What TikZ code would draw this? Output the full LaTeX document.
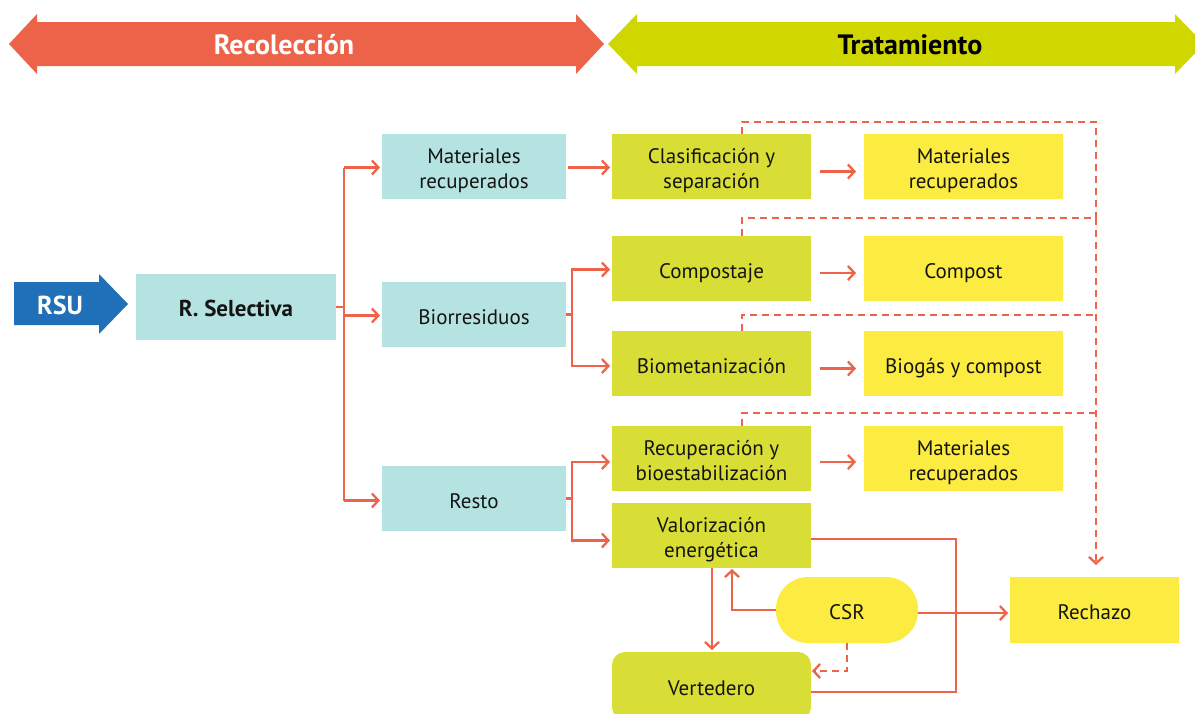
\documentclass[tikz,border=0pt]{standalone}
\usepackage{fontspec}
\setmainfont{PT Sans}
\usetikzlibrary{arrows.meta,calc}
\definecolor{hdrred}{RGB}{237,99,73}
\definecolor{hdrgreen}{RGB}{207,214,0}
\definecolor{procgreen}{RGB}{217,222,54}
\definecolor{outyellow}{RGB}{252,236,66}
\definecolor{tealbg}{RGB}{181,227,225}
\definecolor{rsublue}{RGB}{31,112,184}
\definecolor{linered}{RGB}{238,100,75}
\definecolor{txt}{RGB}{20,20,20}
\newcommand{\mytopstrut}{\rule{0pt}{25pt}}
\newcommand{\mybotstrut}{\rule[-6pt]{0pt}{0pt}}
\newcommand{\twolines}[2]{\mytopstrut #1\\#2\mybotstrut}
\begin{document}
\begin{tikzpicture}[x=1pt,y=-1pt,
  basebox/.style={rectangle, inner sep=0pt, outer sep=0pt, align=center, text=txt,
    font=\fontsize{21}{25.8}\selectfont,
    execute at begin node=\mytopstrut, execute at end node=\mybotstrut},
  tealbox/.style={basebox, fill=tealbg, minimum width=184pt, minimum height=65pt},
  procbox/.style={basebox, fill=procgreen, minimum width=199pt, minimum height=65pt},
  outbox/.style={basebox, fill=outyellow, minimum width=199pt, minimum height=65pt},
  conn/.style={draw=linered, line width=2.3pt},
  arr/.style={conn, -{Straight Barb[length=6.5pt,width=14pt,line width=2.3pt]}, shorten >=2pt},
  dsh/.style={draw=linered, line width=2.3pt, dash pattern=on 7pt off 5pt}
]
\useasboundingbox (0,0) rectangle (1195,713);

% header arrows
\fill[hdrred] (9,44) -- (37,14) -- (37,22) -- (576,22) -- (576,14) -- (604,44) -- (576,74) -- (576,66) -- (37,66) -- (37,74) -- cycle;
\node[text=white, font=\fontsize{28}{32}\bfseries\selectfont] (recol) at (284,45) {Recolección};
\fill[hdrgreen] (608,44) -- (637,14) -- (637,22) -- (1175,22) -- (1175,14) -- (1204,44) -- (1175,74) -- (1175,66) -- (637,66) -- (637,74) -- cycle;
\node[text=black, font=\fontsize{28}{32}\bfseries\selectfont] (trat) at (910,45) {Tratamiento};

% RSU arrow
\fill[rsublue] (14,282) -- (99,282) -- (99,274) -- (128,304) -- (99,334) -- (99,325) -- (14,325) -- cycle;
\node[text=white, font=\fontsize{26}{30}\bfseries\selectfont] (rsu) at (60,305) {RSU};

% collection nodes
\node[tealbox, minimum width=200pt, minimum height=66pt, font=\fontsize{23}{27}\bfseries\selectfont] (rsel) at (236,307) {R. Selectiva};
\node[tealbox] (mr) at (474,166.5) {\twolines{Materiales}{recuperados}};
\node[tealbox] (bio) at (474,314.5) {Biorresiduos};
\node[tealbox] (resto) at (474,498.5) {Resto};

% treatment nodes
\node[procbox] (clas) at (711.5,166.5) {\twolines{Clasificación y}{separación}};
\node[procbox] (comp) at (711.5,268.5) {Compostaje};
\node[procbox] (biomet) at (711.5,363.5) {Biometanización};
\node[procbox] (recup) at (711.5,458.5) {\twolines{Recuperación y}{bioestabilización}};
\node[procbox] (val) at (711.5,535.5) {\twolines{Valorización}{energética}};
\node[procbox, rounded corners=13pt, minimum height=68pt] (vert) at (711.5,686) {Vertedero};

\node[outbox] (o1) at (963.5,166.5) {\twolines{Materiales}{recuperados}};
\node[outbox] (o2) at (963.5,268.5) {Compost};
\node[outbox] (o3) at (963.5,363.5) {Biogás y compost};
\node[outbox] (o4) at (963.5,458.5) {\twolines{Materiales}{recuperados}};

\node[outbox, minimum width=169pt, minimum height=66pt] (rech) at (1094.5,610) {Rechazo};
\node[outbox, minimum width=142pt, minimum height=66pt, rounded corners=32pt] (csr) at (847,610) {CSR};

% branch from R. Selectiva
\coordinate (bx) at (344,0);
\draw[conn] (rsel.east) -- (bx|-rsel.east);
\draw[conn] ($(bx|-mr.west)+(0,1)$) -- ($(bx|-resto.west)+(0,2)$);
\draw[arr] ($(bx|-mr.west)+(0,1)$) -- ($(mr.west)+(0,1)$);
\draw[arr] ($(bx|-bio.west)+(0,1)$) -- ($(bio.west)+(0,1)$);
\draw[arr] ($(bx|-resto.west)+(0,2)$) -- ($(resto.west)+(0,2)$);

% materiales -> clasificacion
\draw[arr] ($(mr.east)+(2,1)$) -- ($(clas.west)+(0,1)$);

% biorresiduos branch
\coordinate (cx) at (572,0);
\draw[conn] (bio.east) -- (cx|-bio.east);
\draw[arr] ($(cx|-comp.west)+(0,1)$) |- ($(biomet.west)+(0,2.5)$);
\draw[arr] ($(cx|-biomet.west)+(0,2.5)$) |- ($(comp.west)+(0,1)$);

% resto branch
\draw[conn] (resto.east) -- (cx|-resto.east);
\draw[arr] ($(cx|-recup.west)+(0,3.5)$) |- ($(val.west)+(0,5)$);
\draw[arr] ($(cx|-val.west)+(0,5)$) |- ($(recup.west)+(0,3.5)$);

% process -> output
\draw[arr] ($(clas.east)+(9,5)$) -- ($(o1.west)+(-6,5)$);
\draw[arr] ($(comp.east)+(9,4.5)$) -- ($(o2.west)+(-6,4.5)$);
\draw[arr] ($(biomet.east)+(9,5)$) -- ($(o3.west)+(-6,5)$);
\draw[arr] ($(recup.east)+(9,3.5)$) -- ($(o4.west)+(-6,3.5)$);

% dashed reject lines
\coordinate (dsx) at (742,0);
\coordinate (dx) at (1096,0);
\draw[dsh] (dsx|-clas.north) -- (dsx|-0,122) -- (dx|-0,122) -- (dx|-0,218);
\draw[dsh] (dsx|-comp.north) -- (dsx|-0,218) -- (dx|-0,218);
\draw[dsh] (dsx|-biomet.north) -- (dsx|-0,315) -- (dx|-0,315);
\draw[dsh] (dsx|-recup.north) -- (dsx|-0,413) -- (dx|-0,413);
\draw[dsh, -{Straight Barb[length=6.5pt,width=14pt,line width=2.3pt]}, shorten >=12pt] (dx|-0,218) -- (dx|-rech.north);

% CSR connections
\draw[arr, shorten >=1pt] (csr.west) -| ($(val.south)+(20.5,0)$);
\draw[arr] ($(val.south)+(0.5,0)$) -- ($(vert.north)+(0.5,0)$);
\draw[dsh, -{Straight Barb[length=6.5pt,width=14pt,line width=2.3pt]}, shorten >=1pt] (csr.south) |- ($(vert.east)+(0,-15)$);
\draw[arr] ($(csr.east)+(0,3)$) -- ($(rech.west)+(0,3)$);
\draw[conn] ($(val.east)+(0,3.5)$) -- (956,539) -- (956,692) -- ($(vert.east)+(0,6)$);
\end{tikzpicture}
\end{document}
